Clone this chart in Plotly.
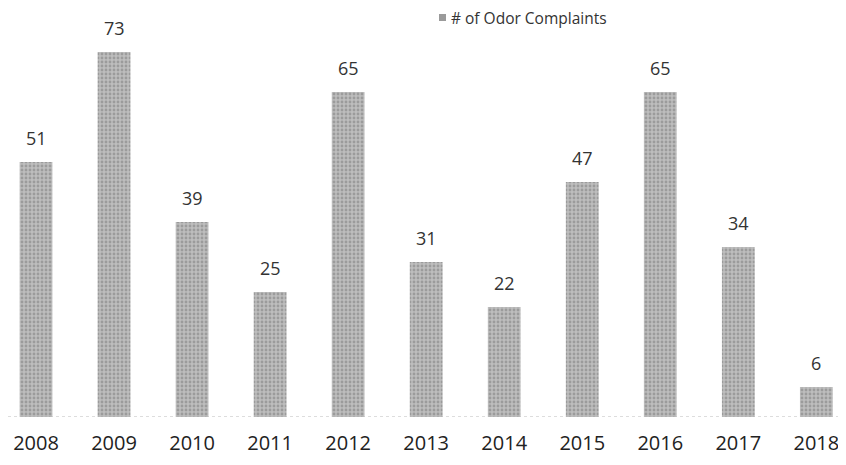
import plotly.graph_objects as go

years = ["2008", "2009", "2010", "2011", "2012", "2013", "2014", "2015", "2016", "2017", "2018"]
complaints = [51, 73, 39, 25, 65, 31, 22, 47, 65, 34, 6]
series_name = "# of Odor Complaints"

fig = go.Figure()
fig.add_trace(go.Bar(
    x=years, y=complaints, name=series_name,
    marker=dict(color="#a6a6a6", line=dict(width=0),
                pattern=dict(shape=".", fgcolor="#7a7a7a", bgcolor="#bdbdbd", size=4, solidity=0.4)),
    showlegend=False,
))

for i, v in enumerate(complaints):
    fig.add_annotation(x=i, y=v, xref="x", yref="y", text=str(v), showarrow=False,
                       yanchor="bottom", yshift=10,
                       font=dict(size=18, color="#333333", family="Open Sans"))

# legend-like key
fig.add_shape(type="rect", xref="paper", yref="paper",
              x0=431 / 838, x1=438 / 838, y0=1 - 13 / 409, y1=1 - 6 / 409,
              line=dict(width=0), fillcolor="#9a9a9a")
fig.add_annotation(xref="paper", yref="paper", x=442 / 838, y=1 - 10 / 409,
                   xanchor="left", yanchor="middle", showarrow=False, text=series_name,
                   borderpad=0,
                   font=dict(size=15.5, color="#333333", family="Open Sans"))

fig.add_shape(type="line", xref="paper", yref="y", x0=0, x1=1, y0=0, y1=0,
              line=dict(color="#bbbbbb", width=1, dash="dot"))

fig.update_layout(
    width=838, height=457,
    margin=dict(l=0, r=0, t=0, b=48),
    paper_bgcolor="white", plot_bgcolor="white",
    bargap=0.58,
    font=dict(family="Open Sans", color="#222222"),
    showlegend=False,
    xaxis=dict(type="category", range=[-0.359, 10.38], showgrid=False, showline=False,
               ticks="", ticklabelstandoff=12, tickfont=dict(size=20, color="#222222")),
    yaxis=dict(range=[0, 81.8], showticklabels=False, ticks="", showgrid=False,
               zeroline=False, showline=False),
)

fig.write_html("out.html")
